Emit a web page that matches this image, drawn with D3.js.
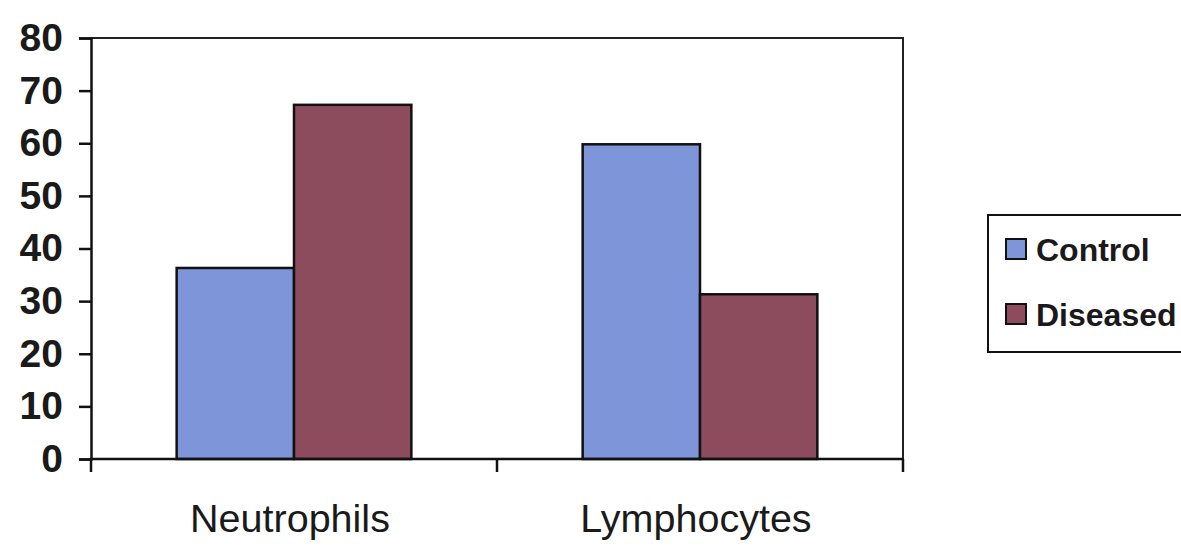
<!DOCTYPE html>
<html>
<head>
<meta charset="utf-8">
<script src="https://cdn.jsdelivr.net/npm/d3@7"></script>
<style>
  html, body { margin: 0; padding: 0; background: #fff; }
  svg { display: block; }
</style>
</head>
<body>
<div id="chart"></div>
<script>
// data
var categories = ["Neutrophils", "Lymphocytes"];
var seriesNames = ["Control", "Diseased"];
var controlValues = [36.3, 59.8];
var diseasedValues = [67.3, 31.3];
var yTicks = [0, 10, 20, 30, 40, 50, 60, 70, 80];
var colors = ["#7f95da", "#8c4c5e"];

var width = 1181, height = 546;
var plot = {left: 91, right: 903, top: 38, bottom: 459};

var svg = d3.select('#chart').append('svg')
  .attr('width', width)
  .attr('height', height)
  .style('background-color', '#fff');

var x0 = d3.scaleBand()
  .domain(categories)
  .range([plot.left, plot.right])
  .padding(0);

var x1 = d3.scaleBand()
  .domain(seriesNames)
  .range([0, x0.bandwidth()])
  .paddingInner(0)
  .paddingOuter(0.73);

var y = d3.scaleLinear()
  .domain([0, 80])
  .range([plot.bottom, plot.top]);

// plot area frame (top + right)
svg.append('path')
  .attr('d', 'M' + plot.left + ',' + plot.top + 'H' + plot.right + 'V' + plot.bottom)
  .attr('fill', 'none')
  .attr('stroke', '#222')
  .attr('stroke-width', 2);

// bars
var rows = categories.map(function(c, i){
  return {cat: c, vals: [controlValues[i], diseasedValues[i]]};
});

var groups = svg.selectAll('.grp')
  .data(rows)
  .enter().append('g')
  .attr('class', 'grp')
  .attr('transform', function(d){ return 'translate(' + x0(d.cat) + ',0)'; });

groups.selectAll('rect')
  .data(function(d){
    return d.vals.map(function(v, i){ return {name: seriesNames[i], value: v, idx: i}; });
  })
  .enter().append('rect')
  .attr('x', function(d){ return x1(d.name); })
  .attr('width', x1.bandwidth())
  .attr('y', function(d){ return y(d.value); })
  .attr('height', function(d){ return y(0) - y(d.value); })
  .attr('fill', function(d){ return colors[d.idx]; })
  .attr('stroke', '#111')
  .attr('stroke-width', 2.5);

// y axis
var yAxis = svg.append('g')
  .attr('transform', 'translate(' + plot.left + ',0)')
  .call(d3.axisLeft(y).tickValues(yTicks).tickSize(12).tickPadding(16));

yAxis.select('.domain').attr('stroke', '#111').attr('stroke-width', 2.5);
yAxis.selectAll('.tick line').attr('stroke', '#111').attr('stroke-width', 2.5);
yAxis.selectAll('.tick text')
  .style('font-family', '"Liberation Sans", Arial, sans-serif')
  .style('font-weight', 'bold')
  .style('font-size', '39px')
  .attr('fill', '#1a1a1a');

// x axis line + boundary ticks
svg.append('line')
  .attr('x1', plot.left).attr('x2', plot.right)
  .attr('y1', plot.bottom).attr('y2', plot.bottom)
  .attr('stroke', '#111').attr('stroke-width', 2.5);

var bounds = categories.map(function(c){ return x0(c); }).concat([plot.right]);
svg.selectAll('.xtick')
  .data(bounds)
  .enter().append('line')
  .attr('class', 'xtick')
  .attr('x1', function(d){ return d; }).attr('x2', function(d){ return d; })
  .attr('y1', plot.bottom).attr('y2', plot.bottom + 13)
  .attr('stroke', '#111').attr('stroke-width', 2.5);

// category labels
svg.selectAll('.xlabel')
  .data(categories)
  .enter().append('text')
  .attr('class', 'xlabel')
  .attr('x', function(d){ return x0(d) + x0.bandwidth()/2 - 4; })
  .attr('y', 532)
  .attr('text-anchor', 'middle')
  .style('font-family', '"Liberation Sans", Arial, sans-serif')
  .style('font-size', '39.5px')
  .attr('fill', '#1a1a1a')
  .text(function(d){ return d; });

// legend
var legend = svg.append('g').attr('transform', 'translate(988,215)');
legend.append('rect')
  .attr('width', 230).attr('height', 137)
  .attr('fill', '#fff')
  .attr('stroke', '#111').attr('stroke-width', 2);

var items = legend.selectAll('.item')
  .data(seriesNames)
  .enter().append('g')
  .attr('class', 'item')
  .attr('transform', function(d, i){ return 'translate(18,' + (24 + i*65) + ')'; });

items.append('rect')
  .attr('width', 20).attr('height', 20)
  .attr('fill', function(d, i){ return colors[i]; })
  .attr('stroke', '#111').attr('stroke-width', 2);

items.append('text')
  .attr('x', 30)
  .attr('y', 22)
  .style('font-family', '"Liberation Sans", Arial, sans-serif')
  .style('font-weight', 'bold')
  .style('font-size', '32px')
  .attr('fill', '#1a1a1a')
  .text(function(d){ return d; });
</script>
</body>
</html>
